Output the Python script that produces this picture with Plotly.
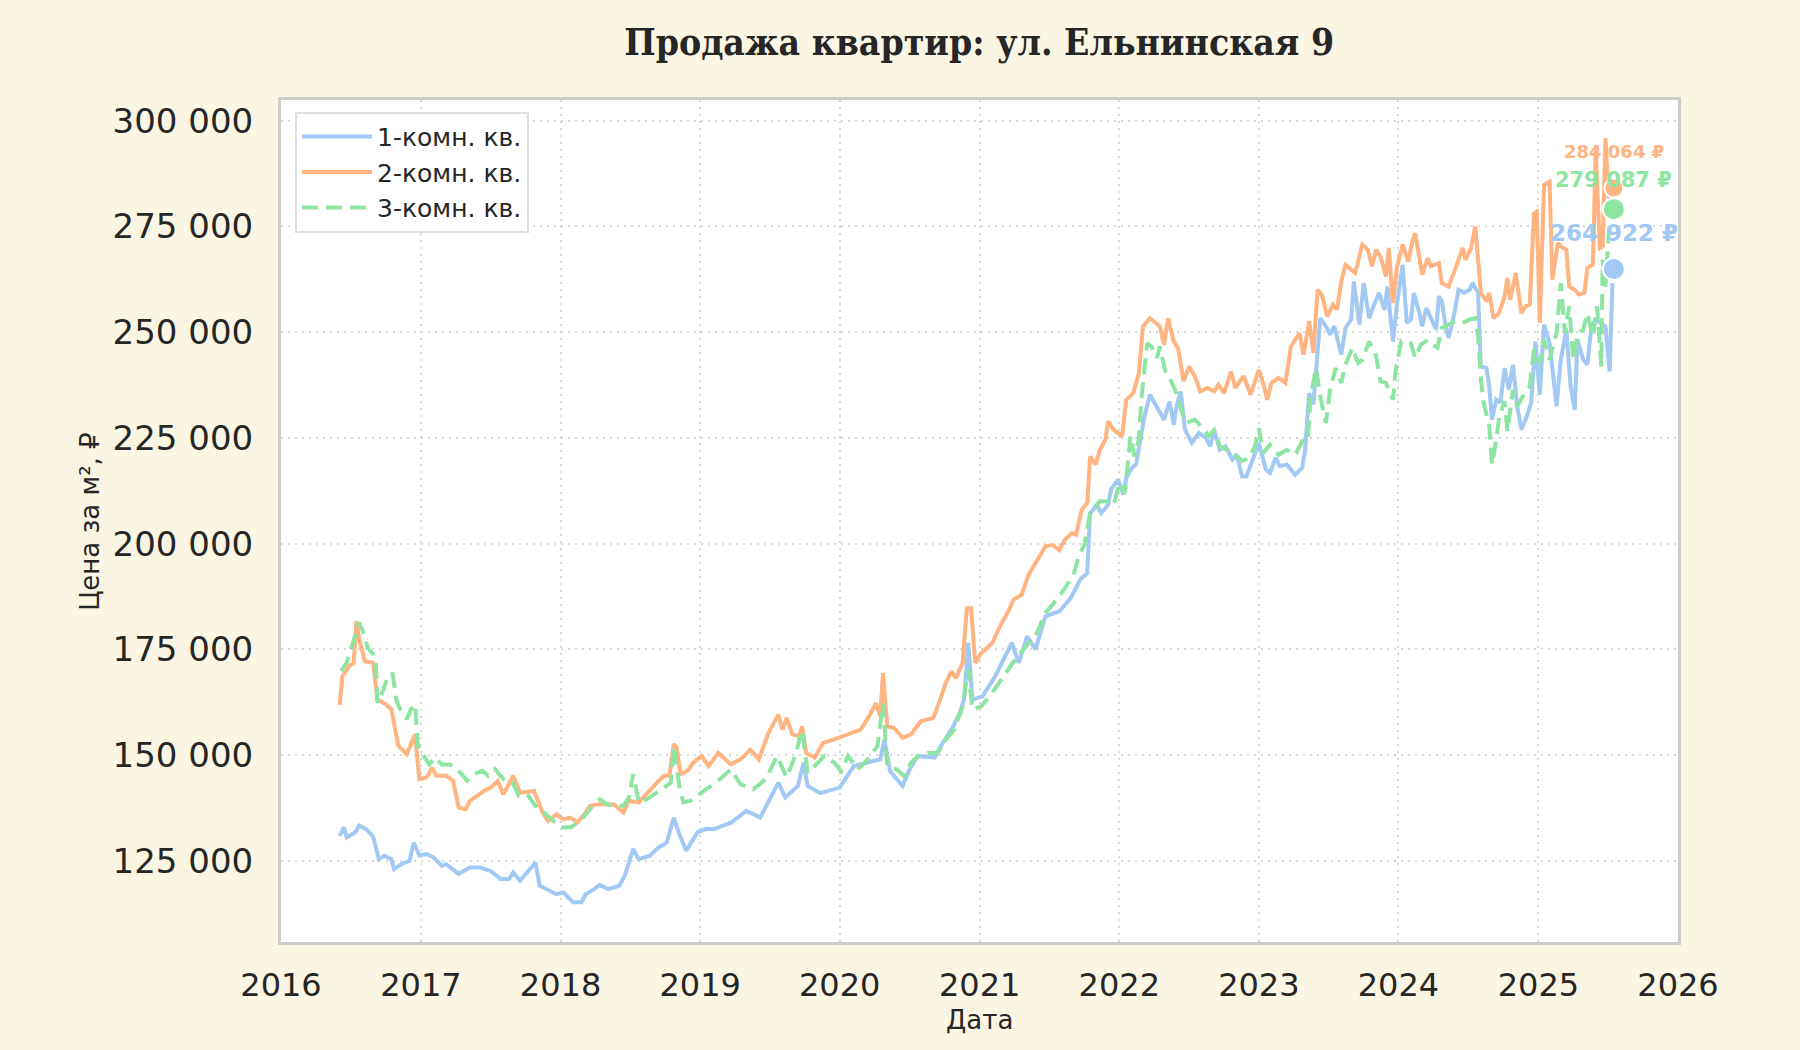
import pandas as pd
import plotly.graph_objects as go

# Decimal year -> price per m2
years_1k = [2016.42, 2016.45, 2016.47, 2016.53, 2016.56, 2016.61, 2016.66, 2016.70, 2016.74, 2016.79,
            2016.81, 2016.86, 2016.92, 2016.95, 2016.99, 2017.04, 2017.09, 2017.15, 2017.18, 2017.27,
            2017.35, 2017.42, 2017.50, 2017.57, 2017.63, 2017.66, 2017.71, 2017.76, 2017.82, 2017.85,
            2017.93, 2017.97, 2018.02, 2018.09, 2018.15, 2018.18, 2018.24, 2018.28, 2018.34, 2018.42,
            2018.46, 2018.52, 2018.56, 2018.64, 2018.70, 2018.76, 2018.81, 2018.85, 2018.90, 2018.98,
            2019.04, 2019.10, 2019.22, 2019.33, 2019.43, 2019.49, 2019.56, 2019.61, 2019.70, 2019.74,
            2019.77, 2019.86, 2020.00, 2020.10, 2020.20, 2020.29, 2020.32, 2020.36, 2020.45, 2020.50,
            2020.56, 2020.68, 2020.73, 2020.80, 2020.86, 2020.89, 2020.92, 2020.95, 2021.02, 2021.11,
            2021.23, 2021.28, 2021.34, 2021.40, 2021.47, 2021.57, 2021.65, 2021.72, 2021.77, 2021.79,
            2021.84, 2021.87, 2021.92, 2021.94, 2021.99, 2022.03, 2022.05, 2022.09, 2022.12, 2022.15,
            2022.18, 2022.22, 2022.27, 2022.32, 2022.36, 2022.39, 2022.41, 2022.44, 2022.47, 2022.52,
            2022.57, 2022.62, 2022.65, 2022.68, 2022.72, 2022.76, 2022.81, 2022.84, 2022.88, 2022.91,
            2022.96, 2023.00, 2023.05, 2023.08, 2023.12, 2023.15, 2023.20, 2023.26, 2023.31, 2023.33,
            2023.36, 2023.39, 2023.42, 2023.44, 2023.48, 2023.51, 2023.54, 2023.59, 2023.62, 2023.66,
            2023.68, 2023.72, 2023.75, 2023.79, 2023.83, 2023.86, 2023.90, 2023.92, 2023.96, 2023.99,
            2024.03, 2024.06, 2024.09, 2024.11, 2024.15, 2024.17, 2024.20, 2024.23, 2024.27, 2024.29,
            2024.31, 2024.34, 2024.36, 2024.40, 2024.43, 2024.47, 2024.51, 2024.53, 2024.57, 2024.59,
            2024.63, 2024.65, 2024.67, 2024.70, 2024.73, 2024.76, 2024.79, 2024.82, 2024.85, 2024.88,
            2024.91, 2024.95, 2024.98, 2025.01, 2025.04, 2025.08, 2025.13, 2025.16, 2025.20, 2025.23,
            2025.26, 2025.28, 2025.32, 2025.35, 2025.38, 2025.41, 2025.45, 2025.48, 2025.51, 2025.53]
price_1k = [130900, 132900, 130500, 131700, 133300, 132500, 130700, 125400, 126200, 125400,
            123000, 124200, 125000, 129300, 126300, 126600, 125800, 123800, 124200, 121900,
            123400, 123400, 122600, 120700, 120700, 122200, 120300, 122200, 124600, 119100,
            117900, 117100, 117500, 115200, 115200, 117100, 118300, 119300, 118300, 119100,
            121500, 127800, 125400, 126200, 128100, 129300, 135200, 131300, 127400, 131700,
            132500, 132500, 134000, 136800, 135200, 139000, 143500, 140000, 142700, 148200,
            142700, 141000, 142300, 147400, 148200, 149000, 153700, 146200, 142700, 146600,
            149800, 149400, 152500, 156000, 160000, 163100, 176500, 163100, 163900, 168600,
            176500, 171800, 178100, 175000, 182800, 184000, 187000, 191500, 193000, 207200,
            209200, 207200, 209200, 212800, 215100, 211600, 215500, 217900, 218700, 224600,
            230100, 235200, 232100, 229300, 233600, 228100, 232500, 236000, 227000, 223800,
            226200, 225000, 223000, 226600, 222200, 223000, 219900, 221000, 215900, 215900,
            220300, 223800, 217500, 216700, 220300, 218300, 218700, 216300, 217900, 221800,
            235600, 232900, 245100, 253300, 251400, 249400, 251400, 244700, 251000, 253000,
            262000, 251800, 261600, 253300, 256900, 259300, 255300, 260800, 247800, 256900,
            265900, 252200, 253000, 259300, 254500, 251400, 255700, 253700, 250600, 258500,
            257300, 251000, 248600, 254500, 260000, 259300, 260000, 261600, 259300, 241900,
            241500, 237200, 229300, 234100, 233300, 241500, 236400, 242300, 232500, 227000,
            229300, 233300, 247800, 235200, 251800, 247400, 232500, 243500, 250600, 237200,
            231700, 248200, 243500, 242300, 251400, 253000, 252200, 251400, 240700, 261600]

years_2k = [2016.42, 2016.44, 2016.49, 2016.52, 2016.54, 2016.56, 2016.60, 2016.66, 2016.69, 2016.75,
            2016.79, 2016.81, 2016.84, 2016.90, 2016.93, 2016.96, 2016.99, 2017.04, 2017.08, 2017.11,
            2017.18, 2017.23, 2017.27, 2017.32, 2017.35, 2017.40, 2017.45, 2017.50, 2017.55, 2017.59,
            2017.66, 2017.71, 2017.81, 2017.87, 2017.91, 2017.97, 2018.02, 2018.07, 2018.12, 2018.17,
            2018.21, 2018.28, 2018.38, 2018.45, 2018.49, 2018.56, 2018.62, 2018.69, 2018.74, 2018.78,
            2018.81, 2018.83, 2018.86, 2018.91, 2018.95, 2019.01, 2019.06, 2019.13, 2019.22, 2019.29,
            2019.36, 2019.42, 2019.49, 2019.56, 2019.59, 2019.62, 2019.66, 2019.71, 2019.73, 2019.76,
            2019.82, 2019.88, 2019.96, 2020.06, 2020.15, 2020.21, 2020.26, 2020.29, 2020.31, 2020.34,
            2020.39, 2020.45, 2020.51, 2020.58, 2020.67, 2020.71, 2020.76, 2020.80, 2020.83, 2020.88,
            2020.91, 2020.94, 2020.97, 2021.01, 2021.09, 2021.15, 2021.21, 2021.24, 2021.30, 2021.35,
            2021.42, 2021.47, 2021.52, 2021.57, 2021.61, 2021.66, 2021.69, 2021.73, 2021.77, 2021.79,
            2021.83, 2021.86, 2021.90, 2021.92, 2021.96, 2022.02, 2022.05, 2022.10, 2022.14, 2022.17,
            2022.22, 2022.26, 2022.29, 2022.32, 2022.35, 2022.39, 2022.42, 2022.46, 2022.50, 2022.54,
            2022.58, 2022.63, 2022.68, 2022.71, 2022.75, 2022.80, 2022.83, 2022.89, 2022.94, 2023.00,
            2023.03, 2023.06, 2023.09, 2023.14, 2023.19, 2023.23, 2023.29, 2023.32, 2023.36, 2023.39,
            2023.42, 2023.45, 2023.49, 2023.53, 2023.56, 2023.59, 2023.62, 2023.66, 2023.69, 2023.74,
            2023.78, 2023.81, 2023.84, 2023.87, 2023.91, 2023.93, 2023.96, 2023.99, 2024.03, 2024.07,
            2024.10, 2024.12, 2024.15, 2024.17, 2024.21, 2024.23, 2024.29, 2024.31, 2024.36, 2024.40,
            2024.43, 2024.46, 2024.48, 2024.52, 2024.55, 2024.57, 2024.59, 2024.63, 2024.65, 2024.68,
            2024.72, 2024.76, 2024.78, 2024.80, 2024.84, 2024.88, 2024.91, 2024.94, 2024.97, 2024.99,
            2025.01, 2025.04, 2025.08, 2025.10, 2025.14, 2025.16, 2025.20, 2025.22, 2025.26, 2025.29,
            2025.33, 2025.35, 2025.39, 2025.41, 2025.44, 2025.46, 2025.48, 2025.51, 2025.53]
price_2k = [161800, 168700, 171100, 171800, 181700, 177400, 172200, 171800, 163200, 162000,
            160800, 157300, 152200, 150200, 152600, 154900, 144300, 144700, 147000, 145100,
            145100, 143900, 137600, 137200, 139200, 140400, 141500, 142300, 143900, 140700,
            145100, 141100, 141500, 136400, 134400, 136000, 134800, 135200, 134100, 136000,
            138000, 138400, 138400, 136400, 139200, 138800, 141100, 143500, 145100, 145100,
            152600, 151800, 145500, 146300, 148200, 149800, 147400, 150500, 147800, 149000,
            151300, 149000, 155300, 159600, 156000, 158800, 154900, 154500, 156800, 150500,
            149400, 152900, 153700, 154900, 156000, 159200, 162300, 159200, 169400, 156800,
            156400, 154100, 154900, 158000, 158800, 162300, 167100, 169800, 168200, 171800,
            184700, 184700, 171800, 174100, 176500, 180800, 184300, 186700, 187900, 192600,
            196500, 199300, 199700, 198500, 200900, 202500, 202100, 208000, 209600, 220600,
            218700, 222200, 224600, 228900, 226900, 225400, 234000, 235600, 240300, 251400,
            253300, 252200, 251400, 247000, 253300, 247800, 246300, 238400, 241900, 239600,
            236000, 236800, 236000, 237600, 235600, 240700, 236800, 239600, 235200, 241100,
            238000, 234000, 238000, 239200, 238000, 246700, 249800, 244700, 252600, 245100,
            260000, 258900, 253700, 256500, 255300, 262000, 265900, 264800, 264000, 270700,
            269500, 265600, 269500, 267900, 263200, 269900, 256900, 265600, 270700, 266700,
            271500, 273400, 267100, 263600, 267500, 265600, 266300, 261600, 260800, 264800,
            267100, 269900, 267100, 269900, 275000, 267100, 259300, 257300, 259300, 253300,
            254500, 258500, 262800, 257700, 264000, 254500, 256100, 256500, 278100, 278500,
            252200, 284800, 285600, 262400, 271100, 270300, 269500, 260800, 260000, 258900,
            259300, 265200, 266000, 293100, 269900, 270300, 295900, 277400, 284000]

years_3k = [2016.43, 2016.47, 2016.50, 2016.53, 2016.56, 2016.59, 2016.62, 2016.66, 2016.68, 2016.69,
            2016.73, 2016.77, 2016.80, 2016.83, 2016.86, 2016.90, 2016.93, 2016.96, 2016.98, 2017.02,
            2017.06, 2017.10, 2017.15, 2017.21, 2017.27, 2017.33, 2017.38, 2017.44, 2017.48, 2017.53,
            2017.59, 2017.65, 2017.70, 2017.76, 2017.82, 2017.88, 2017.95, 2018.00, 2018.07, 2018.14,
            2018.21, 2018.28, 2018.33, 2018.38, 2018.45, 2018.49, 2018.52, 2018.56, 2018.62, 2018.69,
            2018.74, 2018.79, 2018.81, 2018.85, 2018.88, 2018.93, 2018.98, 2019.04, 2019.10, 2019.22,
            2019.29, 2019.38, 2019.47, 2019.55, 2019.62, 2019.68, 2019.73, 2019.77, 2019.82, 2019.89,
            2019.96, 2020.01, 2020.06, 2020.13, 2020.20, 2020.27, 2020.31, 2020.34, 2020.41, 2020.46,
            2020.51, 2020.56, 2020.63, 2020.70, 2020.76, 2020.82, 2020.88, 2020.92, 2020.95, 2021.01,
            2021.09, 2021.15, 2021.22, 2021.27, 2021.33, 2021.40, 2021.47, 2021.57, 2021.62, 2021.67,
            2021.71, 2021.75, 2021.79, 2021.83, 2021.86, 2021.91, 2021.96, 2022.00, 2022.04, 2022.08,
            2022.11, 2022.14, 2022.16, 2022.20, 2022.23, 2022.27, 2022.29, 2022.33, 2022.36, 2022.41,
            2022.45, 2022.48, 2022.54, 2022.60, 2022.64, 2022.68, 2022.72, 2022.77, 2022.82, 2022.88,
            2022.93, 2022.97, 2023.00, 2023.03, 2023.08, 2023.14, 2023.20, 2023.26, 2023.31, 2023.35,
            2023.37, 2023.41, 2023.44, 2023.48, 2023.51, 2023.55, 2023.59, 2023.62, 2023.67, 2023.71,
            2023.74, 2023.79, 2023.84, 2023.87, 2023.91, 2023.93, 2023.96, 2023.98, 2024.02, 2024.05,
            2024.09, 2024.12, 2024.16, 2024.21, 2024.24, 2024.28, 2024.31, 2024.36, 2024.41, 2024.46,
            2024.51, 2024.55, 2024.57, 2024.59, 2024.61, 2024.65, 2024.67, 2024.70, 2024.72, 2024.76,
            2024.78, 2024.82, 2024.85, 2024.89, 2024.94, 2024.97, 2025.01, 2025.04, 2025.08, 2025.13,
            2025.16, 2025.19, 2025.22, 2025.25, 2025.28, 2025.32, 2025.35, 2025.39, 2025.42, 2025.45,
            2025.46, 2025.48, 2025.51, 2025.53]
price_3k = [169900, 171800, 175000, 178100, 181300, 178900, 175400, 173800, 171500, 162400,
            165200, 169100, 169100, 162400, 160400, 158500, 160800, 162000, 152200, 149800,
            147800, 149400, 147800, 147800, 146300, 143900, 145500, 146300, 145100, 146700,
            144300, 143900, 140400, 140700, 138000, 136400, 134400, 132900, 132900, 134400,
            137200, 139600, 138400, 138000, 138000, 140000, 145500, 138800, 139600, 141100,
            142300, 143500, 152200, 142700, 138800, 139200, 140400, 141900, 143100, 146600,
            143100, 141900, 144300, 149800, 144700, 149800, 156000, 145800, 147400, 149800,
            148200, 146200, 149800, 146600, 149000, 152100, 162300, 147400, 146600, 145000,
            148200, 149800, 150500, 150500, 153700, 156000, 161500, 170200, 160800, 161500,
            164700, 167800, 171000, 173300, 175700, 178100, 183600, 187500, 190000, 192500,
            197000, 199800, 207200, 208800, 210000, 210000, 209200, 214300, 212000, 225400,
            220600, 224600, 234800, 247400, 246600, 243900, 246600, 240700, 239200, 235600,
            230900, 228500, 229300, 227300, 225400, 226900, 223000, 222200, 221400, 219500,
            220300, 223000, 227300, 221400, 223400, 221000, 222200, 221000, 224200, 224200,
            234800, 241500, 234800, 228500, 236400, 241500, 238000, 242300, 246300, 242700,
            243500, 247800, 244300, 238400, 238000, 236400, 234000, 241100, 247800, 247400,
            247400, 243900, 247000, 248200, 247000, 246300, 251000, 251800, 252600, 252200,
            253000, 253300, 249000, 238800, 233300, 227800, 218700, 224600, 229700, 233700,
            226600, 236400, 232500, 234800, 237200, 245900, 242700, 248200, 243500, 249800,
            261600, 249800, 256100, 243500, 249800, 250600, 254500, 249000, 256100, 241900,
            267100, 260800, 276600, 279000]

names = ["1-комн. кв.", "2-комн. кв.", "3-комн. кв."]
colors = ["#a1c9f4", "#ffb482", "#8de5a1"]
dashes = ["solid", "solid", "16px,8px"]

# final values marked at the end of each line
last_year = 2025.54
last_price = [264922, 284064, 279087]
last_labels = ["264 922 ₽", "284 064 ₽", "279 087 ₽"]
label_sizes = [23, 18, 21]
label_shift = [36, 37, 29]
marker_sizes = [22, 19, 22]


def to_dates(years):
    return [pd.Timestamp(int(y), 1, 1) + pd.Timedelta(days=(y % 1) * 365.25) for y in years]


fig = go.Figure()

series = [(years_1k, price_1k), (years_2k, price_2k), (years_3k, price_3k)]
for (yrs, vals), name, col, dash in zip(series, names, colors, dashes):
    fig.add_trace(go.Scatter(x=to_dates(yrs), y=vals, name=name, mode="lines",
                             line=dict(color=col, width=4, dash=dash)))

for i in range(3):
    d = to_dates([last_year])
    fig.add_trace(go.Scatter(x=d, y=[last_price[i]], mode="markers", showlegend=False,
                             marker=dict(color=colors[i], size=marker_sizes[i],
                                         line=dict(color="white", width=2))))
    fig.add_annotation(x=d[0], y=last_price[i], text="<b>" + last_labels[i] + "</b>",
                       showarrow=False, yshift=label_shift[i],
                       font=dict(family="DejaVu Sans", size=label_sizes[i], color=colors[i]))

# axis titles
fig.add_annotation(xref="paper", yref="paper", x=-0.149, y=0.5, text="Цена за м², ₽",
                   textangle=-90, showarrow=False,
                   font=dict(family="DejaVu Sans", size=26, color="#262626"))
fig.add_annotation(xref="paper", yref="paper", x=0.5, y=-0.113, text="Дата",
                   showarrow=False, font=dict(family="DejaVu Sans", size=26, color="#262626"))

fig.update_layout(
    width=1800, height=1050,
    paper_bgcolor="#fbf5e3", plot_bgcolor="#ffffff",
    margin=dict(l=281, r=122, t=100, b=108),
    separators=", ",
    title=dict(text="<b>Продажа квартир: ул. Ельнинская 9</b>", x=0.544, xanchor="center",
               y=0.96, yanchor="middle",
               font=dict(family="DejaVu Serif Condensed, DejaVu Serif", size=37, color="#262626")),
    font=dict(family="DejaVu Sans", color="#262626"),
    legend=dict(x=0.01, y=0.986, xanchor="left", yanchor="top", bgcolor="#ffffff",
                bordercolor="#dddddd", borderwidth=2, font=dict(size=25, color="#262626"),
                tracegroupgap=2, itemwidth=70),
    showlegend=True,
)

fig.update_xaxes(range=["2016-01-01", "2026-01-01"], dtick="M12", tickformat="%Y",
                 tickfont=dict(size=32), showgrid=True, gridcolor="#d8d8d8", griddash="2px,5px",
                 gridwidth=2, showline=True, mirror=True, linecolor="#cccccc", linewidth=3,
                 ticks="", ticklabelstandoff=13, zeroline=False)
fig.update_yaxes(range=[105800, 304900], tickvals=[125000, 150000, 175000, 200000, 225000, 250000,
                                                   275000, 300000],
                 tickformat=",d", tickfont=dict(size=34), showgrid=True, gridcolor="#d8d8d8",
                 griddash="2px,5px", gridwidth=2, showline=True, mirror=True, linecolor="#cccccc",
                 linewidth=3, ticks="", ticklabelstandoff=18, zeroline=False)

# page body has a default margin; drop it so the figure sits at the window corner
fig.write_html("out.html", config={"displayModeBar": False},
               post_script="document.body.style.margin='0';")
